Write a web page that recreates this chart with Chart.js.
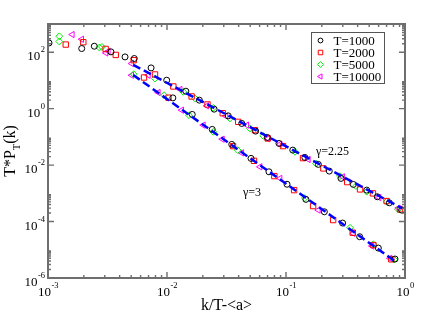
<!DOCTYPE html>
<html>
<head>
<meta charset="utf-8">
<script src="https://cdn.jsdelivr.net/npm/chart.js@4.4.1/dist/chart.umd.min.js"></script>
<style>
	html, body { margin: 0; padding: 0; background: #fff; }
	#wrap { width: 423px; height: 327px; }
</style>
</head>
<body>
<div id="wrap"><canvas id="chart" width="423" height="327"></canvas></div>
<script>
// values (k/T-<a>, T*P_T(k))
const k1000 = [1.02e-3, 1.92e-3, 2.45e-3, 3.38e-3, 4.44e-3, 5.31e-3, 7.35e-3, 9.94e-3, 1.44e-2, 1.87e-2, 2.49e-2, 3.27e-2, 4.25e-2, 5.56e-2, 6.96e-2, 8.73e-2, 0.114, 0.144, 0.187, 0.231, 0.29, 0.368, 0.477, 0.585, 0.738, 0.937,
	1.12e-2, 1.63e-2, 2.40e-2, 3.50e-2, 5.08e-2, 7.19e-2, 0.102, 0.147, 0.21, 0.299, 0.416, 0.597, 0.824];
const p1000 = [213, 135, 163, 103, 68.2, 59.8, 27.8, 10.2, 4.16, 2.0, 0.96, 0.556, 0.299, 0.16, 0.0957, 0.0586, 0.034, 0.0187, 0.0106, 6.14e-3, 3.38e-3, 2.07e-3, 1.30e-3, 7.55e-4, 4.62e-4, 2.55e-4,
	2.41, 0.624, 0.184, 0.0541, 0.0173, 5.79e-3, 2.1e-3, 6.11e-4, 2.22e-4, 8.85e-5, 2.9e-5, 1.15e-5, 4.71e-6];

const k2000 = [1.41e-3, 1.98e-3, 3.05e-3, 3.71e-3, 5.25e-3, 7.93e-3, 1.13e-2, 1.61e-2, 2.19e-2, 2.94e-2, 3.97e-2, 5.48e-2, 7.02e-2, 0.0944, 0.139, 0.206, 0.327, 0.419, 0.538, 0.701, 0.908,
	6.41e-3, 1.03e-2, 3.59e-2, 5.38e-2, 7.98e-2, 0.117, 0.169, 0.249, 0.364, 0.542, 0.767];
const p2000 = [187, 226, 131, 80.2, 52.1, 16.3, 6.11, 2.70, 1.41, 0.693, 0.341, 0.173, 0.0881, 0.0471, 0.0177, 7.64e-3, 2.5e-3, 1.38e-3, 9.95e-4, 5.32e-4, 2.7e-4,
	12.7, 2.45, 0.0471, 0.0142, 4.08e-3, 1.3e-3, 3.54e-4, 1.13e-4, 4.02e-5, 1.47e-5, 4.59e-6];

const k5000 = [1.245e-3, 1.245e-3, 2.70e-3, 2.84e-3, 7.93e-3, 1.37e-2, 1.72e-2, 2.45e-2, 3.38e-2, 4.97e-2, 6.44e-2, 0.119, 0.179, 0.284, 0.387, 0.477, 0.701, 0.879,
	5.25e-3, 9.44e-3, 1.53e-2, 2.45e-2, 3.93e-2, 0.144, 0.345, 0.542, 0.809];
const p5000 = [368, 239, 147, 154, 11.7, 3.94, 2.30, 1.07, 0.45, 0.199, 0.109, 0.0296, 0.0113, 4.08e-3, 1.81e-3, 1.14e-3, 5.02e-4, 2.7e-4,
	16.6, 3.01, 0.589, 0.151, 0.034, 6.79e-4, 6.04e-5, 1.56e-5, 4.52e-6];

const k10000 = [1.60e-3, 1.92e-3, 3.07e-3, 3.21e-3, 5.05e-3, 5.05e-3, 6.97e-3, 1.29e-2, 2.16e-2, 3.13e-2, 4.68e-2, 7.06e-2, 8.91e-2, 0.154, 0.299, 0.605, 0.879,
	8.45e-3, 1.33e-2, 2.02e-2, 2.92e-2, 4.25e-2, 6.05e-2, 8.91e-2, 0.187, 0.368, 0.528, 0.748];
const p10000 = [423, 288, 94.4, 108, 39.8, 15.3, 15.3, 4.79, 1.26, 0.543, 0.261, 0.0867, 0.0553, 0.0159, 3.85e-3, 7.08e-4, 3.0e-4,
	3.74, 0.885, 0.261, 0.0832, 0.0272, 8.71e-3, 3.38e-3, 2.55e-4, 3.82e-5, 1.36e-5, 4.98e-6];

// power-law fits, end points only (straight in log-log)
const fitK225 = [5.2e-3, 0.95];
const fitP225 = [35.8, 2.92e-4];
const fitK3 = [5.2e-3, 0.84];
const fitP3 = [15.6, 3.71e-6];

// axis ticks
const xMajor = [1e-3, 1e-2, 1e-1, 1];
const xTickExp = ['-3', '-2', '-1', '0'];
const yMajor = [1e-6, 1e-4, 1e-2, 1, 1e2];
const yTickExp = ['-6', '-4', '-2', '0', '2'];

const seriesNames = ['T=1000', 'T=2000', 'T=5000', 'T=10000'];

const SERIF = '"Liberation Serif", "Times New Roman", serif';

const zip = (xs, ys) => xs.map((x, i) => ({ x: x, y: ys[i] }));

const styles = [
	{ color: '#000000', style: 'circle', rot: 0, r: 3, lr: 2.4 },
	{ color: '#ff0000', style: 'rect', rot: 0, r: 3.8, lr: 3.2 },
	{ color: '#00ee00', style: 'rectRot', rot: 0, r: 3.4, lr: 2.9 },
	{ color: '#ff00ff', style: 'triangle', rot: 270, r: 3.6, lr: 3 }
];

const markerSets = [[k1000, p1000], [k2000, p2000], [k5000, p5000], [k10000, p10000]].map((d, i) => ({
	label: seriesNames[i],
	data: zip(d[0], d[1]),
	showLine: false,
	order: 1 + i,
	pointStyle: styles[i].style,
	pointRotation: styles[i].rot,
	pointRadius: styles[i].r,
	pointBorderWidth: 1,
	pointBorderColor: styles[i].color,
	pointBackgroundColor: 'rgba(0,0,0,0)'
}));

const fitSet = (xs, ys) => ({
	label: 'fit',
	data: zip(xs, ys),
	showLine: true,
	order: 0,
	borderColor: '#0000ff',
	borderWidth: 2.5,
	borderDash: [8, 4],
	pointRadius: 0
});

// text labels next to the fits, in data coordinates
const gammaNotes = [
	{ text: 'γ=2.25', x: 0.246, y: 0.0288 },
	{ text: 'γ=3', x: 0.0518, y: 1.02e-3 }
];

const decor = {
	id: 'decor',
	afterDraw(chart) {
		const { ctx, chartArea: a } = chart;
		const sx = chart.scales.x, sy = chart.scales.y;
		ctx.save();

		// frame
		ctx.strokeStyle = '#6e6e6e';
		ctx.lineWidth = 2;
		ctx.strokeRect(a.left, a.top, a.right - a.left, a.bottom - a.top);

		// inward ticks on all four sides
		ctx.lineWidth = 1.4;
		ctx.beginPath();
		const xt = (v, len) => {
			const px = sx.getPixelForValue(v);
			ctx.moveTo(px, a.bottom); ctx.lineTo(px, a.bottom - len);
			ctx.moveTo(px, a.top); ctx.lineTo(px, a.top + len);
		};
		const yt = (v, len) => {
			const py = sy.getPixelForValue(v);
			ctx.moveTo(a.left, py); ctx.lineTo(a.left + len, py);
			ctx.moveTo(a.right, py); ctx.lineTo(a.right - len, py);
		};
		xMajor.forEach((m, i) => {
			xt(m, 6);
			if (i < xMajor.length - 1) for (let k = 2; k <= 9; k++) xt(k * m, 3);
		});
		yMajor.forEach(m => {
			yt(m, 6);
			for (let k = 2; k <= 9; k++) yt(k * m, 3);
		});
		ctx.stroke();

		// tick labels 10^n
		ctx.fillStyle = '#000';
		ctx.textAlign = 'left';
		ctx.textBaseline = 'alphabetic';
		const big = '13px ' + SERIF, small = '8.5px ' + SERIF;
		ctx.font = big;
		const wb = ctx.measureText('10').width;
		xMajor.forEach((m, i) => {
			ctx.font = small;
			const ws = ctx.measureText(xTickExp[i]).width;
			const left = sx.getPixelForValue(m) - (wb + ws) / 2;
			ctx.font = big;
			ctx.fillText('10', left, a.bottom + 18);
			ctx.font = small;
			ctx.fillText(xTickExp[i], left + wb + 0.5, a.bottom + 10);
		});
		yMajor.forEach((m, i) => {
			ctx.font = small;
			const ws = ctx.measureText(yTickExp[i]).width;
			const py = sy.getPixelForValue(m);
			const left = a.left - 3 - ws - wb - 0.5;
			ctx.font = big;
			ctx.fillText('10', left, py + 8);
			ctx.font = small;
			ctx.fillText(yTickExp[i], left + wb + 0.5, py);
		});

		// axis titles
		ctx.font = '16px ' + SERIF;
		ctx.textAlign = 'center';
		ctx.fillText('k/T-<a>', (a.left + a.right) / 2, a.bottom + 31.5);

		ctx.save();
		ctx.translate(14.5, (a.top + a.bottom) / 2);
		ctx.rotate(-Math.PI / 2);
		ctx.textAlign = 'left';
		ctx.font = '16px ' + SERIF;
		const w1 = ctx.measureText('T*P').width, w3 = ctx.measureText('(k)').width;
		ctx.font = '10.5px ' + SERIF;
		const w2 = ctx.measureText('T').width;
		let x0 = -(w1 + w2 + w3) / 2;
		ctx.font = '16px ' + SERIF;
		ctx.fillText('T*P', x0, 0);
		ctx.font = '10.5px ' + SERIF;
		ctx.fillText('T', x0 + w1, 5);
		ctx.font = '16px ' + SERIF;
		ctx.fillText('(k)', x0 + w1 + w2, 0);
		ctx.restore();

		// gamma notes
		ctx.font = '12px ' + SERIF;
		ctx.textAlign = 'center';
		ctx.textBaseline = 'middle';
		gammaNotes.forEach(n => {
			ctx.fillText(n.text, sx.getPixelForValue(n.x), sy.getPixelForValue(n.y));
		});

		// legend box
		const lx = Math.round(a.right - 94) + 0.5, ly = Math.round(a.top + 8) + 0.5;
		ctx.fillStyle = '#fff';
		ctx.fillRect(lx, ly, 73, 51);
		ctx.strokeStyle = '#555';
		ctx.lineWidth = 1;
		ctx.strokeRect(lx, ly, 73, 51);
		ctx.textAlign = 'left';
		ctx.textBaseline = 'alphabetic';
		ctx.font = '13px ' + SERIF;
		seriesNames.forEach((name, i) => {
			const cy = ly + 8 + 12 * i;
			ctx.strokeStyle = styles[i].color;
			ctx.fillStyle = 'rgba(0,0,0,0)';
			ctx.lineWidth = 1;
			Chart.helpers.drawPoint(ctx, {
				pointStyle: styles[i].style,
				rotation: styles[i].rot,
				radius: styles[i].lr,
				borderWidth: 1
			}, lx + 9, cy);
			ctx.fillStyle = '#000';
			ctx.fillText(name, lx + 22, cy + 4.5);
		});

		ctx.restore();
	}
};

new Chart(document.getElementById('chart'), {
	type: 'scatter',
	data: {
		datasets: [fitSet(fitK225, fitP225), fitSet(fitK3, fitP3)].concat(markerSets)
	},
	options: {
		responsive: false,
		devicePixelRatio: 1,
		animation: false,
		layout: { padding: { left: 48, right: 18, top: 24, bottom: 49 } },
		scales: {
			x: { type: 'logarithmic', min: 1e-3, max: 1, display: false },
			y: { type: 'logarithmic', min: 1e-6, max: 1e3, display: false }
		},
		plugins: {
			legend: { display: false },
			tooltip: { enabled: false }
		}
	},
	plugins: [decor]
});
</script>
</body>
</html>
